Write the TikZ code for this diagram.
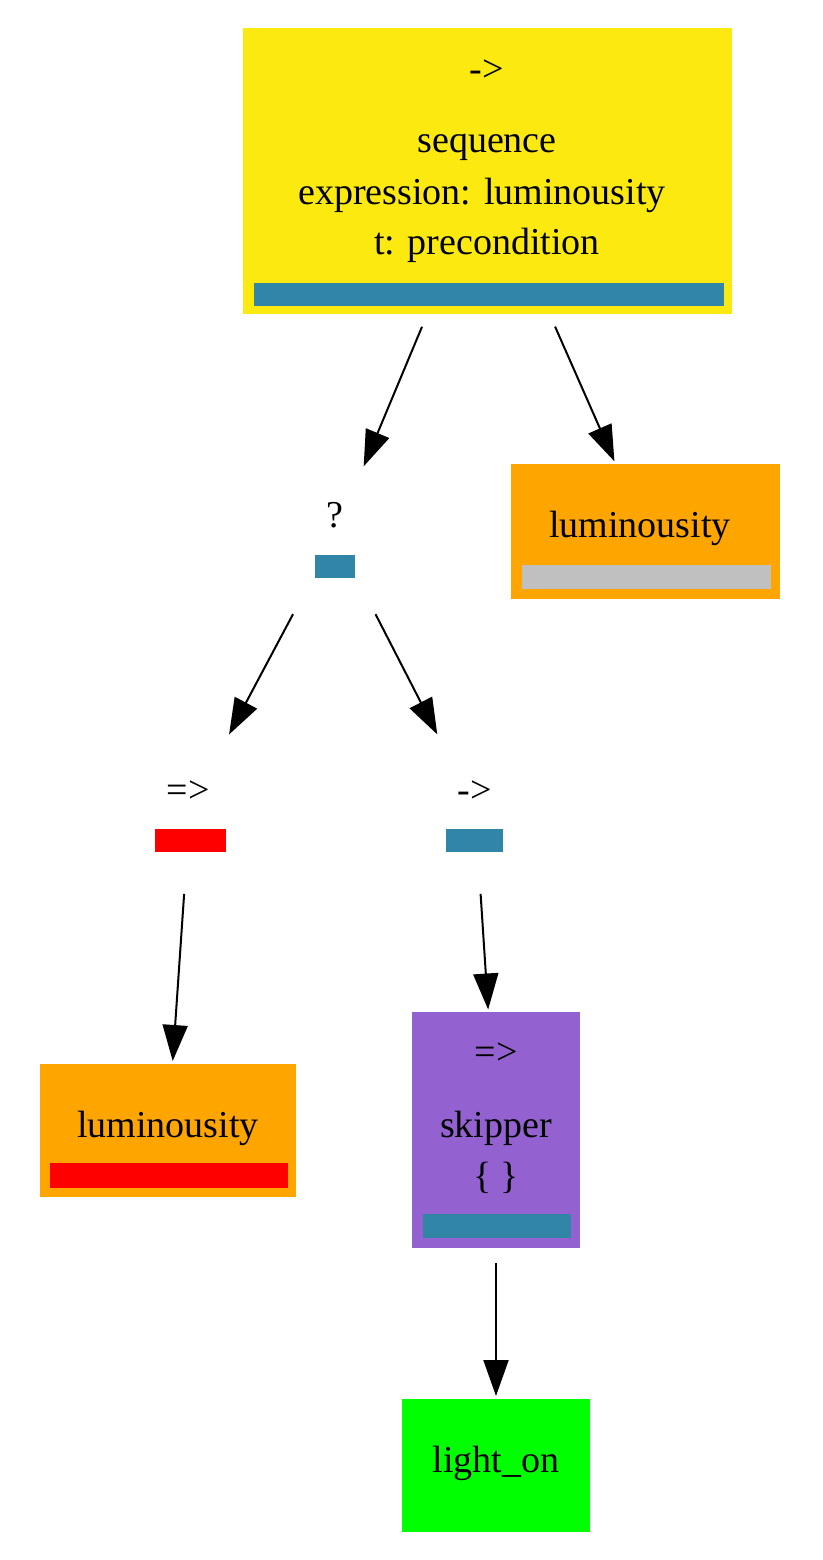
\documentclass[tikz,border=0pt]{standalone}
\usepackage{fontspec}
\setmainfont{Liberation Serif}
\usetikzlibrary{arrows.meta}
\definecolor{yel}{HTML}{FCE910}
\definecolor{blu}{HTML}{3186A8}
\definecolor{org}{HTML}{FFA500}
\definecolor{pur}{HTML}{9362D0}
\definecolor{grn}{HTML}{00FF00}
\definecolor{gry}{HTML}{C0C0C0}
\begin{document}
\begin{tikzpicture}[x=1pt,y=-1pt,
  box/.style={rectangle,inner sep=0,outer sep=0,line width=3pt},
  txt/.style={inner sep=0,font=\fontsize{38}{46}\selectfont,anchor=base},
  edge/.style={-{Triangle[length=36pt,width=25pt]},line width=2pt,shorten <=16pt,shorten >=4pt}]
\useasboundingbox (0,0) rectangle (822,1560);
% nodes
\node[box,fill=yel,draw=yel,minimum width=486,minimum height=282] (top) at (487,171) {};
\node[box,minimum width=80,minimum height=130] (sel) at (335,535) {};
\node[box,fill=org,draw=org,minimum width=266,minimum height=132] (lumr) at (645,531) {};
\node[box,minimum width=100,minimum height=140] (imp) at (190,808) {};
\node[box,minimum width=80,minimum height=140] (seq) at (475,808) {};
\node[box,fill=org,draw=org,minimum width=253,minimum height=130] (luml) at (168,1130) {};
\node[box,fill=pur,draw=pur,minimum width=165,minimum height=233] (skip) at (496,1130) {};
\node[box,fill=grn,draw=grn,minimum width=185,minimum height=130] (light) at (496,1465) {};
% texts
\node[txt] (t1) at (487,82) {->};
\node[txt] (t2) at (487,153) {sequence};
\node[txt] (t3) at (482,204) {expression: luminousity};
\node[txt] (t4) at (487,254) {t: precondition};
\fill[blu] (254,283) rectangle (724,306);
\node[txt] (t5) at (335,527) {?};
\fill[blu] (315,555) rectangle (355,578);
\node[txt] (t6) at (640,537) {luminousity};
\fill[gry] (522,565) rectangle (771,589);
\node[txt] (t7) at (188,802) {=>};
\fill[red] (155,829) rectangle (226,852);
\node[txt] (t8) at (475,802) {->};
\fill[blu] (446,829) rectangle (503,852);
\node[txt] (t9) at (168,1137) {luminousity};
\fill[red] (50,1163) rectangle (288,1188);
\node[txt] (t10) at (496,1064) {=>};
\node[txt] (t11) at (496,1137) {skipper};
\node[txt] (t12) at (496,1188) {\{ \}};
\fill[blu] (423,1214) rectangle (571,1238);
\node[txt] (t13) at (496,1472) {light\_on};
% edges
\draw[edge] (top) -- (sel);
\draw[edge] (top) -- (lumr);
\draw[edge] (sel) -- (imp);
\draw[edge] (sel) -- (seq);
\draw[edge] (imp) -- (luml);
\draw[edge] (seq) -- (skip);
\draw[edge] (skip) -- (light);
\end{tikzpicture}
\end{document}
